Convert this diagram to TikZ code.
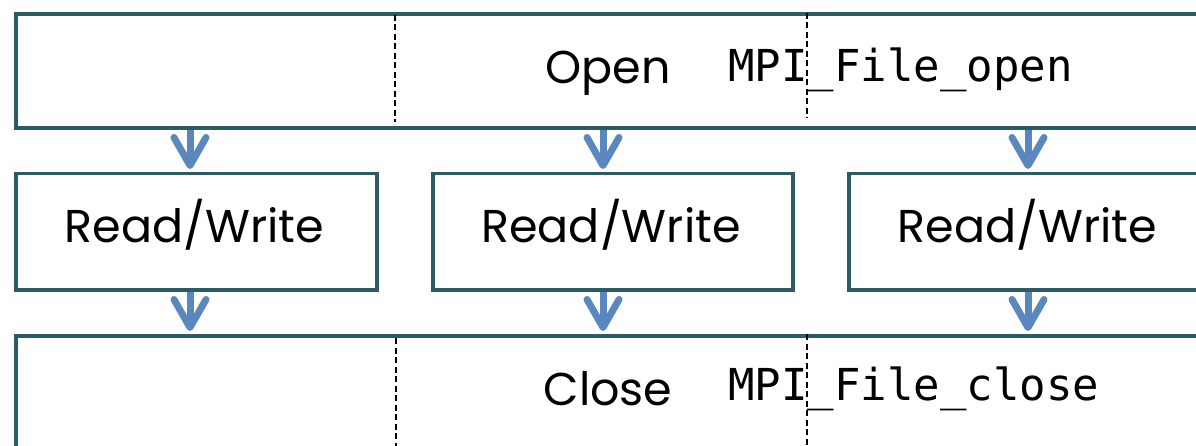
\documentclass[tikz,border=0pt]{standalone}
\usepackage{fontspec}
\setmainfont{Poppins}
\newfontfamily\monof{DejaVu Sans Mono}
\usetikzlibrary{arrows.meta}
\definecolor{boxc}{HTML}{2B5C64}
\definecolor{arrc}{HTML}{5A87BE}
\tikzset{
  bigbox/.style={draw=boxc, line width=4pt, inner sep=0pt, anchor=north west},
  rwbox/.style={draw=boxc, line width=3.5pt, inner sep=0pt, anchor=north west, minimum height=116pt},
  flow/.style={draw=arrc, line width=7pt, -{Straight Barb[length=28pt, width=32pt, line cap=round, round]}, shorten >=3pt},
  cut/.style={black, line width=2pt, dash pattern=on 6pt off 3.5pt},
  lbl/.style={font=\fontsize{46}{46}\selectfont, inner sep=0pt},
  code/.style={font=\monof\fontsize{44}{44}\selectfont, inner sep=0pt, anchor=base west},
}
\begin{document}
\begin{tikzpicture}[x=1pt, y=-1pt]
\useasboundingbox (0,0) rectangle (1196,446);
\clip (0,0) rectangle (1196,446);
% boxes
\node[bigbox, minimum width=1226pt, minimum height=114pt] (top) at (14,12) {};
\node[bigbox, minimum width=1226pt, minimum height=170pt] (bot) at (14,334) {};
\node[rwbox, minimum width=361pt] (rw1) at (14,172) {};
\node[rwbox, minimum width=360pt] (rw2) at (431,172) {};
\node[rwbox, minimum width=361pt] (rw3) at (847,172) {};
% labels
\node[lbl, anchor=base] (lopen) at (608,84) {Open};
\node[code] (copen) at (728,82) {MPI\_File\_open};
\node[lbl, anchor=base] (lclose) at (608,405) {Close};
\node[code] (cclose) at (728,400) {MPI\_File\_close};
\node[lbl, anchor=base] (t1) at (194.5,243) {Read/Write};
\node[lbl, anchor=base] (t2) at (611,243) {Read/Write};
\node[lbl, anchor=base] (t3) at (1027.5,243) {Read/Write};
% dashed separators
\draw[cut] (395,15) -- (395,122);
\draw[cut] (807,13) -- (807,118);
\draw[cut] (396,338) -- (396,446);
\draw[cut] (807,334) -- (807,446);
% arrows
\draw[flow] (top.south -| 190,0) -- (rw1.north -| 190,0);
\draw[flow] (top.south -| 603,0) -- (rw2.north -| 603,0);
\draw[flow] (top.south -| 1028,0) -- (rw3.north -| 1028,0);
\draw[flow] (rw1.south -| 190,0) -- (bot.north -| 190,0);
\draw[flow] (rw2.south -| 603,0) -- (bot.north -| 603,0);
\draw[flow] (rw3.south -| 1028,0) -- (bot.north -| 1028,0);
\end{tikzpicture}
\end{document}
